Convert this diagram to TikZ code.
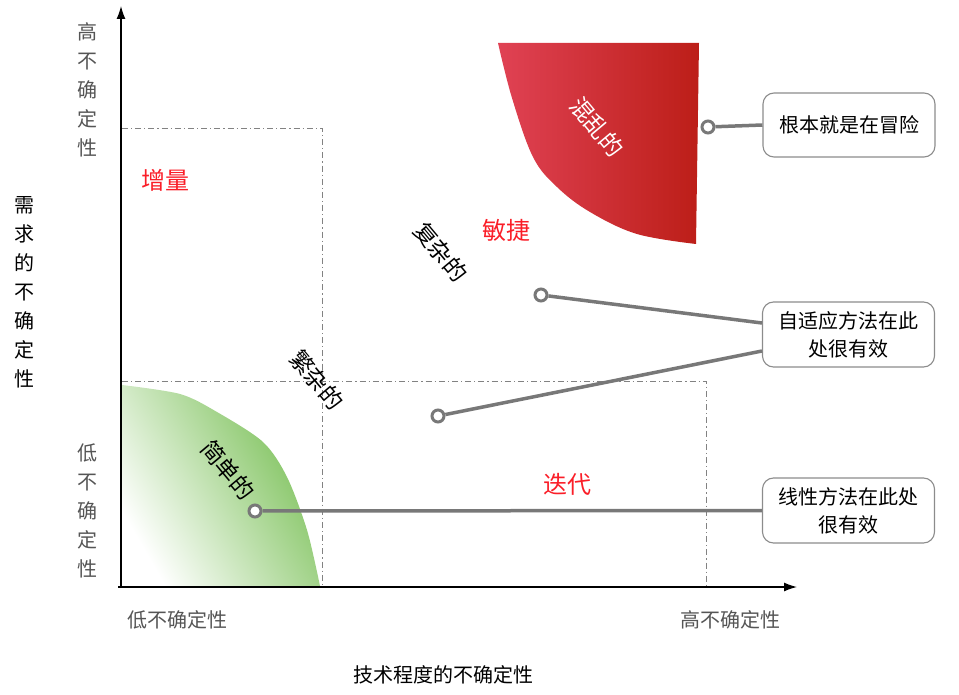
\documentclass[tikz,border=0pt]{standalone}
\usepackage{fontspec}
\setmainfont{Noto Sans CJK SC}
\usetikzlibrary{arrows.meta}
\definecolor{linegray}{RGB}{120,120,120}
\definecolor{boxgray}{RGB}{140,140,140}
\definecolor{axgray}{RGB}{85,85,85}
\definecolor{dashgray}{RGB}{130,130,130}
\definecolor{lblred}{RGB}{250,30,40}
\definecolor{redL}{RGB}{224,66,84}
\definecolor{redR}{RGB}{188,30,24}
\definecolor{grn}{RGB}{118,190,82}
\begin{document}
\begin{tikzpicture}[x=1pt,y=-1pt,
  conn/.style={draw=linegray,line width=3.5pt},
  dot/.style={circle,draw=linegray,line width=3pt,fill=white,minimum size=12pt,inner sep=0pt},
  infobox/.style={draw=boxgray,line width=1.1pt,rounded corners=11pt,fill=white,minimum width=172pt,minimum height=64pt,align=center,inner sep=2pt,font=\fontsize{20}{28}\selectfont},
  dashdot/.style={draw=dashgray,line width=0.9pt,dash pattern=on 6pt off 3pt on 1.2pt off 3pt},
  redlbl/.style={text=lblred,font=\fontsize{24}{28}\selectfont,inner sep=0pt},
  rotlbl/.style={font=\fontsize{23}{28}\selectfont,inner sep=0pt,rotate=-50},
  vlbl/.style={align=center,inner sep=0pt,font=\fontsize{20}{29}\selectfont},
  axis/.style={draw=black,line width=1.3pt,-{Latex[length=13pt,width=9pt]}}
]
\useasboundingbox (0,0) rectangle (959,695);

% chaotic region (red)
\shade[left color=redL,right color=redR]
  (498,43) -- (699,43) -- plot[smooth,tension=0.6] coordinates {(696,244) (637,234) (590,212) (557,187) (533,157) (512,98) (498,43)} -- cycle;

% simple region (green)
\shade[bottom color=white,top color=grn,shading angle=-60]
  plot[smooth,tension=0.5] coordinates {(122,385) (180,394) (217,412) (263,442) (287,477) (307,530) (320,586)} -- (122,586) -- cycle;

% dash-dot regions
\draw[dashdot] (122,128) -- (322,128) -- (322,587);
\draw[dashdot] (122,381) -- (706,381) -- (706,587);

% axes
\coordinate (o) at (121,587);
\coordinate (ytip) at (121,6);
\coordinate (xtip) at (797,587);
\draw[axis] (121,588) -- (ytip);
\draw[axis] (118,587) -- (xtip);

% axis labels
\node[vlbl,text=axgray] (yhigh) at (87,90) {高\\不\\确\\定\\性};
\node[vlbl,text=axgray] (ylow) at (87,511) {低\\不\\确\\定\\性};
\node[vlbl,text=black] (ytitle) at (25,292) {需\\求\\的\\不\\确\\定\\性};
\node[text=axgray,font=\fontsize{20}{24}\selectfont,inner sep=0pt] (xlow) at (177,620) {低不确定性};
\node[text=axgray,font=\fontsize{20}{24}\selectfont,inner sep=0pt] (xhigh) at (730,620) {高不确定性};
\node[text=black,font=\fontsize{20}{24}\selectfont,inner sep=0pt] (xtitle) at (443,675) {技术程度的不确定性};

% region labels
\node[redlbl] (zl) at (165,180) {增量};
\node[redlbl] (mj) at (506,230) {敏捷};
\node[redlbl] (dd) at (567,484) {迭代};
\node[rotlbl,text=white] (hl) at (597,127) {混乱的};
\node[rotlbl] (fz) at (441,252) {复杂的};
\node[rotlbl] (fzz) at (317,380) {繁杂的};
\node[rotlbl] (jd) at (228,470) {简单的};

% info boxes
\node[infobox] (b1) at (849,125) {根本就是在冒险};
\node[infobox,minimum height=65pt] (b2) at (848.5,334.5) {自适应方法在此\\处很有效};
\node[infobox,minimum height=65pt] (b3) at (848.5,510.5) {线性方法在此处\\很有效};

% connector dots
\node[dot] (c1) at (708,127) {};
\node[dot] (c2) at (541,295) {};
\node[dot] (c3) at (438,416) {};
\node[dot] (c4) at (255,511) {};

% connectors
\draw[conn] (c1) -- (b1.west);
\draw[conn] (c2) -- ([yshift=11.5pt]b2.west);
\draw[conn] (c3) -- ([yshift=-16.5pt]b2.west);
\draw[conn] (c4) -- (b3.west);
\end{tikzpicture}
\end{document}
